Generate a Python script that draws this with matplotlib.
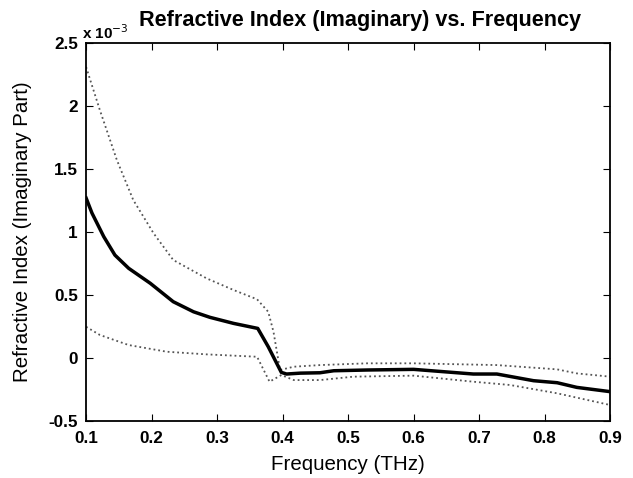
import numpy as np
import matplotlib.pyplot as plt
from matplotlib.ticker import FuncFormatter

plt.rcParams['font.family'] = ['Liberation Sans', 'DejaVu Sans']

# frequency (THz) and imaginary refractive index (x 1e-3)
f_mean = [0.1, 0.109, 0.127, 0.144, 0.165, 0.198, 0.233, 0.264, 0.289, 0.325,
          0.362, 0.378, 0.398, 0.406, 0.427, 0.457, 0.478, 0.53, 0.6, 0.691,
          0.727, 0.783, 0.819, 0.849, 0.9]
n_mean = [1.27, 1.15, 0.963, 0.817, 0.712, 0.593, 0.447, 0.367, 0.323, 0.275,
          0.235, 0.09, -0.114, -0.127, -0.12, -0.117, -0.101, -0.095, -0.09, -0.127,
          -0.127, -0.18, -0.196, -0.233, -0.267]

f_up = [0.1, 0.121, 0.147, 0.172, 0.203, 0.233, 0.284, 0.325, 0.361, 0.378,
        0.386, 0.396, 0.417, 0.457, 0.529, 0.6, 0.727, 0.819, 0.849, 0.9]
n_up = [2.31, 1.968, 1.571, 1.254, 0.99, 0.778, 0.632, 0.54, 0.466, 0.367,
        0.209, -0.095, -0.069, -0.056, -0.042, -0.042, -0.056, -0.09, -0.122, -0.148]

f_low = [0.1, 0.121, 0.165, 0.223, 0.284, 0.361, 0.38, 0.398, 0.417, 0.457,
         0.508, 0.6, 0.691, 0.747, 0.819, 0.9]
n_low = [0.248, 0.183, 0.103, 0.05, 0.029, 0.01, -0.188, -0.135, -0.175, -0.175,
         -0.148, -0.14, -0.188, -0.214, -0.28, -0.373]

scale = 1e-3

fig = plt.figure(figsize=(6.33, 4.78), dpi=100)
ax = fig.add_axes([0.136, 0.1192, 0.828, 0.7908])

ax.plot(f_up, np.array(n_up) * scale, ':', color='#555555', lw=1.3)
ax.plot(f_low, np.array(n_low) * scale, ':', color='#555555', lw=1.3)
ax.plot(f_mean, np.array(n_mean) * scale, '-', color='black', lw=2.5)

ax.set_xlim(0.1, 0.9)
ax.set_ylim(-0.5e-3, 2.5e-3)
ax.set_xticks(np.arange(0.1, 0.91, 0.1))
ax.set_yticks(np.arange(-0.5, 2.51, 0.5) * scale)
ax.xaxis.set_major_formatter(FuncFormatter(lambda v, p: '%g' % round(v, 2)))
ax.yaxis.set_major_formatter(FuncFormatter(lambda v, p: '%g' % round(v / scale, 2)))
ax.tick_params(direction='in', top=True, right=True, length=5, width=0.8,
               labelsize=12.3)
ax.tick_params(axis='x', pad=7)
ax.tick_params(axis='y', pad=6)
for lab in ax.get_xticklabels() + ax.get_yticklabels():
    lab.set_fontweight('bold')
for s in ax.spines.values():
    s.set_linewidth(1.3)

ax.text(-0.007, 1.004, 'x 10$^{-3}$', transform=ax.transAxes, fontsize=11,
        fontweight='bold', ha='left', va='bottom')
ax.set_title('Refractive Index (Imaginary) vs. Frequency', fontsize=15.6,
             fontweight='bold', pad=12, x=0.523)
ax.set_xlabel('Frequency (THz)', fontsize=14.8, labelpad=7)
ax.set_ylabel('Refractive Index (Imaginary Part)', fontsize=14.8, labelpad=12)

fig.savefig('out.png', dpi=100)
